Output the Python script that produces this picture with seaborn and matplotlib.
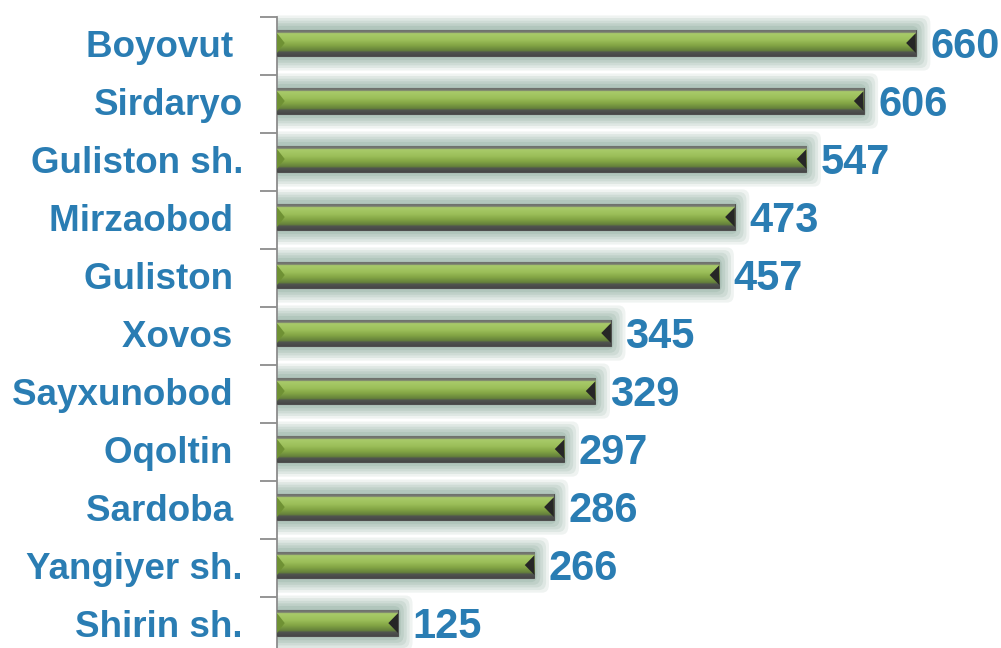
import numpy as np
import matplotlib
matplotlib.use("Agg")
import matplotlib.pyplot as plt
import seaborn as sns
from matplotlib.patches import FancyBboxPatch, Polygon
from matplotlib.colors import LinearSegmentedColormap

# data
districts = ["Boyovut ", "Sirdaryo", "Guliston sh.", "Mirzaobod ", "Guliston ",
             "Xovos ", "Sayxunobod ", "Oqoltin ", "Sardoba ", "Yangiyer sh.",
             "Shirin sh."]
values = [660, 606, 547, 473, 457, 345, 329, 297, 286, 266, 125]

BLUE = "#2a7db3"
GREEN = "#8fb34c"
X_MAX = 748

sns.set_theme(style="white")
plt.rcParams["font.family"] = ["Liberation Sans", "DejaVu Sans"]

fig = plt.figure(figsize=(10.01, 6.48), dpi=100)
# axes box: bars centred 3px above the midpoints between the tick marks
ax = fig.add_axes([277 / 1001, -7 / 648, 1 - 277 / 1001, 641 / 648])

sns.barplot(x=values, y=districts, orient="h", color=GREEN, width=0.45,
            edgecolor="#4f4f4f", linewidth=0.8, saturation=1, ax=ax, zorder=3)

grad = LinearSegmentedColormap.from_list(
    "bar", [(0.0, "#6a6d6a"), (0.12, "#777a72"), (0.16, "#a9cb6a"),
            (0.40, "#9cbf5a"), (0.60, "#84a645"), (0.80, "#64803a"),
            (0.86, "#505450"), (1.0, "#474747")])
grad_img = np.linspace(0, 1, 128).reshape(-1, 1)

for p, v in zip(ax.patches, values):
    x, y = p.get_x(), p.get_y()
    w, h = p.get_width(), p.get_height()
    # soft glow around each bar
    for i, a in enumerate([0.12, 0.14, 0.16, 0.18, 0.20]):
        pad_x = 15 - i * 3
        pad_y = 0.25 - i * 0.045
        glow = FancyBboxPatch((x - pad_x, y - pad_y), w + 2 * pad_x, h + 2 * pad_y,
                              boxstyle="round,pad=0,rounding_size=7",
                              mutation_aspect=0.02,
                              facecolor="#7d9f8e", edgecolor="none",
                              alpha=a, zorder=1)
        ax.add_patch(glow)
    # vertical gradient inside the bar
    im = ax.imshow(grad_img, cmap=grad, aspect="auto",
                   extent=(x, x + w, y + h, y), zorder=4)
    im.set_clip_path(p)
    # bevelled ends
    ax.add_patch(Polygon([(x + w, y + h * 0.12), (x + w, y + h * 0.88),
                          (x + w - 10, y + h * 0.5)],
                         closed=True, facecolor="#262626", edgecolor="none",
                         zorder=5))
    ax.add_patch(Polygon([(x, y + h * 0.12), (x, y + h * 0.88),
                          (x + 8, y + h * 0.5)],
                         closed=True, facecolor="#6f9134", edgecolor="none",
                         zorder=5))
    ax.text(x + w + 15, y + h / 2 + 0.07, f"{v}", ha="left", va="center",
            fontsize=30, fontweight="bold", color=BLUE, zorder=6)

ax.set_xlim(0, X_MAX)
ax.set_ylim(len(districts) - 0.5, -0.5)
ax.set_aspect("auto")
ax.set_xlabel("")
ax.set_ylabel("")
ax.set_xticks([])

ax.set_yticks(range(len(districts)))
ax.set_yticklabels(districts)
ax.tick_params(axis="y", which="major", length=0, pad=24.5,
               labelsize=26.5, labelcolor=BLUE)
for t in ax.get_yticklabels():
    t.set_fontweight("bold")
ax.set_yticks(np.arange(-0.5, len(districts), 1) + 0.05, minor=True)
ax.tick_params(axis="y", which="minor", length=12, width=1.3, color="#8c8c8c",
               left=True)

for s in ["top", "right", "bottom"]:
    ax.spines[s].set_visible(False)
ax.spines["left"].set_color("#8c8c8c")
ax.spines["left"].set_linewidth(1.3)
ax.spines["left"].set_bounds(len(districts) - 0.5, -0.45)
ax.patch.set_alpha(0)

fig.savefig("out.png", dpi=100)
